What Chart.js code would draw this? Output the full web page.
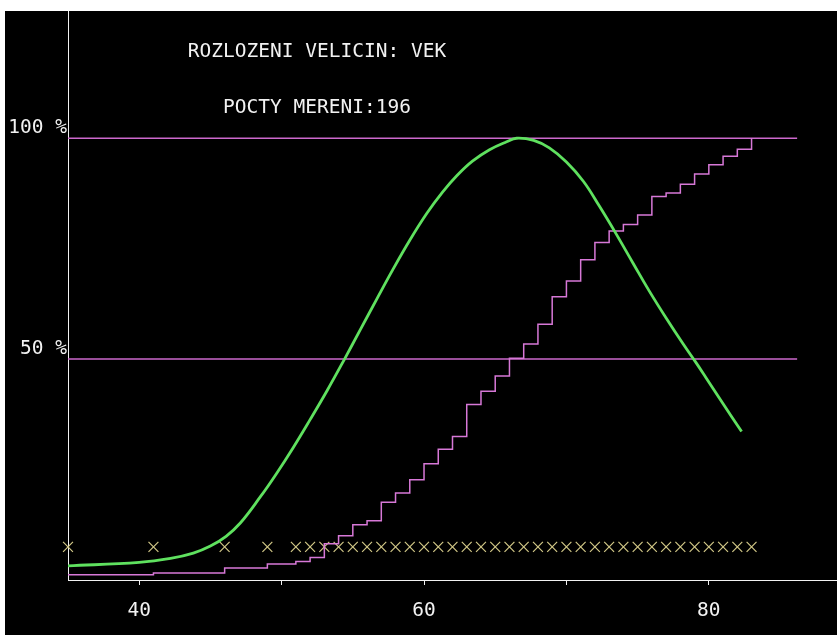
<!DOCTYPE html>
<html>
<head>
<meta charset="utf-8">
<script src="https://cdn.jsdelivr.net/npm/chart.js@4/dist/chart.umd.min.js"></script>
<style>
  html, body { margin: 0; padding: 0; background: #fff; }
  #wrap { position: absolute; left: 5px; top: 11px; width: 832px; height: 624px; background: #000; }
</style>
</head>
<body>
<div id="wrap"><canvas id="chart"></canvas></div>
<script>
// ages where measurements exist (markers + steps of the cumulative line)
const ages = [35, 41, 46, 49, 51, 52, 53, 54, 55, 56, 57, 58, 59, 60, 61, 62, 63, 64, 65, 66,
  67, 68, 69, 70, 71, 72, 73, 74, 75, 76, 77, 78, 79, 80, 81, 82, 83];
// cumulative share in %
const cumPct = [1.2, 1.6, 2.7, 3.6, 4.2, 5.1, 8.2, 10.0, 12.5, 13.4, 17.6, 19.7, 22.7, 26.3, 29.6, 32.5, 39.7, 42.7, 46.2, 50.2,
  53.4, 57.9, 64.1, 67.7, 72.5, 76.4, 79.0, 80.5, 82.6, 86.8, 87.6, 89.6, 91.9, 94.0, 95.9, 97.5, 100];
const markerLevel = 7.5;

// density curve, scaled to 100 % at its top
const curveAge = [35, 40, 42.2, 43.8, 45, 46.1, 47.1, 48.5, 49.6, 50.8, 52.0, 53.2, 54.4, 55.5, 56.7, 57.8, 59.0, 60.2,
  61.3, 62.3, 63.4, 64.6, 65.8, 66.5, 67.7, 68.8, 70.0, 71.2, 72.3, 73.5, 74.7, 75.8, 77.0, 78.2, 79.1, 79.8, 81.0, 82.3];
const curvePct = [3.2, 4.0, 4.9, 6.1, 7.7, 9.9, 12.9, 18.8, 23.9, 29.9, 36.3, 42.9, 49.9, 56.5, 63.7, 70.2, 76.9, 83.0,
  87.8, 91.5, 94.8, 97.4, 99.2, 100, 99.5, 97.8, 94.6, 90.2, 84.7, 78.3, 71.6, 65.5, 59.3, 53.4, 49.2, 45.8, 39.9, 33.6];

const refLevels = [50, 100];
const refEnd = 86.2;
const xTicks = [40, 50, 60, 70, 80];
const xLabels = { 40: '40', 60: '60', 80: '80' };

const titleLines = ['ROZLOZENI VELICIN: VEK', 'POCTY MERENI:196'];

const monoFont = "'DejaVu Sans Mono', 'Liberation Mono', monospace";

const titlePlugin = {
  id: 'dosTitle',
  afterDraw(chart) {
    const c = chart.ctx;
    c.save();
    c.fillStyle = '#f2f2f2';
    c.font = '19.5px ' + monoFont;
    c.textAlign = 'center';
    c.textBaseline = 'middle';
    c.fillText(titleLines[0], 312, 41);
    c.fillText(titleLines[1], 312, 97);
    c.restore();
  }
};

const magenta = 'rgb(205,105,205)';

new Chart(document.getElementById('chart'), {
  type: 'line',
  data: {
    datasets: [
      {
        label: 'hustota',
        data: curveAge.map((a, i) => ({x: a, y: curvePct[i]})),
        borderColor: 'rgb(95,225,95)',
        borderWidth: 2.8,
        pointRadius: 0,
        tension: 0.4
      },
      {
        label: 'kumulativne',
        data: ages.map((a, i) => ({x: a, y: cumPct[i]})),
        borderColor: 'rgb(215,120,215)',
        borderWidth: 1.5,
        pointRadius: 0,
        stepped: true
      },
      ...refLevels.map(l => ({
        label: l + ' %',
        data: [{x: 35, y: l}, {x: refEnd, y: l}],
        borderColor: magenta,
        borderWidth: 1.5,
        pointRadius: 0
      })),
      {
        label: 'mereni',
        data: ages.map(a => ({x: a, y: markerLevel})),
        showLine: false,
        pointStyle: 'crossRot',
        pointRadius: 7,
        borderColor: 'rgb(210,200,135)',
        borderWidth: 1.2,
        clip: false
      }
    ]
  },
  options: {
    responsive: true,
    maintainAspectRatio: false,
    animation: false,
    layout: { padding: 0, autoPadding: false },
    plugins: { legend: false, tooltip: { enabled: false } },
    scales: {
      x: {
        type: 'linear',
        min: 35,
        max: 89,
        afterBuildTicks: s => { s.ticks = xTicks.map(v => ({value: v})); },
        afterFit: s => { s.height = 55; s.paddingLeft = 0; s.paddingRight = 0; },
        ticks: {
          color: '#f2f2f2',
          font: { family: monoFont, size: 19.5 },
          padding: 14,
          maxRotation: 0,
          autoSkip: false,
          callback: v => xLabels[v] || ''
        },
        grid: { drawOnChartArea: false, color: '#f2f2f2', tickLength: 5 },
        border: { color: '#f2f2f2', width: 1 }
      },
      y: {
        min: 0,
        max: 128.8,
        afterBuildTicks: s => { s.ticks = refLevels.map(v => ({value: v})); },
        afterFit: s => { s.width = 63; s.paddingTop = 0; s.paddingBottom = 0; },
        ticks: {
          color: '#f2f2f2',
          font: { family: monoFont, size: 19.5 },
          padding: 1,
          labelOffset: -10.5,
          callback: v => v + ' %'
        },
        grid: { display: false, drawTicks: false },
        border: { color: '#f2f2f2', width: 1 }
      }
    }
  },
  plugins: [titlePlugin]
});
</script>
</body>
</html>
